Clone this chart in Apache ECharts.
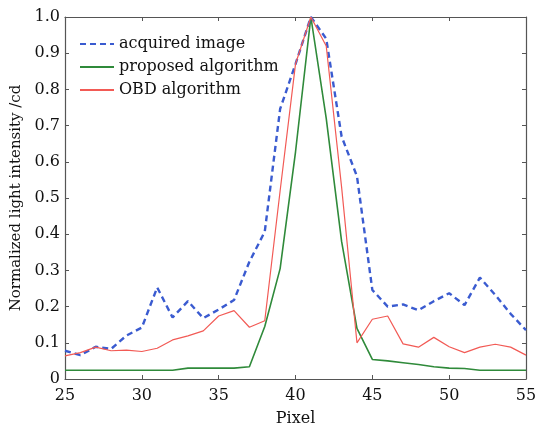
<!DOCTYPE html>
<html>
<head>
<meta charset="utf-8">
<script src="https://cdn.jsdelivr.net/npm/echarts@6/dist/echarts.min.js"></script>
<style>html,body{margin:0;padding:0;background:#fff;}#c{width:536px;height:427px;}</style>
</head>
<body>
<div id="c"></div>
<script>
var pixels = [25,26,27,28,29,30,31,32,33,34,35,36,37,38,39,40,41,42,43,44,45,46,47,48,49,50,51,52,53,54,55];
var acquired = [0.078,0.066,0.089,0.083,0.12,0.142,0.253,0.17,0.215,0.168,0.192,0.218,0.324,0.407,0.746,0.87,1.0,0.94,0.67,0.56,0.246,0.2,0.206,0.19,0.215,0.237,0.204,0.28,0.232,0.18,0.135];
var proposed = [0.024,0.024,0.024,0.024,0.024,0.024,0.024,0.024,0.03,0.03,0.03,0.03,0.034,0.145,0.305,0.627,1.0,0.72,0.38,0.14,0.054,0.05,0.045,0.04,0.034,0.03,0.029,0.024,0.024,0.024,0.024];
var obd = [0.064,0.073,0.088,0.078,0.08,0.076,0.085,0.108,0.119,0.133,0.174,0.189,0.143,0.161,0.52,0.87,1.0,0.92,0.53,0.1,0.165,0.174,0.097,0.088,0.115,0.089,0.073,0.088,0.096,0.088,0.066];
var xTicks = [25,30,35,40,45,50,55];
var yTicks = [0,0.1,0.2,0.3,0.4,0.5,0.6,0.7,0.8,0.9,1.0];
var names = ['acquired image','proposed algorithm','OBD algorithm'];

function pairs(ys){ return pixels.map(function(p,i){ return [p, ys[i]]; }); }
var font = 'DejaVu Serif';
var axisCol = '#555';
var chart = echarts.init(document.getElementById('c'));
var baseX = {type:'value', min:xTicks[0], max:xTicks[xTicks.length-1], interval:5,
  axisLine:{show:true, onZero:false, lineStyle:{color:axisCol, width:1.2}},
  axisTick:{show:true, inside:true, length:4, lineStyle:{color:axisCol}},
  splitLine:{show:false}};
var baseY = {type:'value', min:0, max:1, interval:0.1,
  axisLine:{show:true, onZero:false, lineStyle:{color:axisCol, width:1.2}},
  axisTick:{show:true, inside:true, length:4, lineStyle:{color:axisCol}},
  splitLine:{show:false}};
chart.setOption({
  animation:false,
  backgroundColor:'#fff',
  grid:{left:65, right:10, top:17, bottom:48, outerBoundsMode:'none', containLabel:false},
  legend:{
    data:names.map(function(n){ return {name:n}; }), orient:'vertical', left:74, top:31,
    itemWidth:34, itemHeight:12, itemGap:7,
    itemStyle:{opacity:0},
    textStyle:{fontFamily:font, fontSize:16, color:'#111'}
  },
  xAxis:[
    Object.assign({}, baseX, {position:'bottom', name:'Pixel', nameLocation:'middle', nameGap:32,
      nameTextStyle:{fontFamily:font, fontSize:16, color:'#111'},
      axisLabel:{fontFamily:font, fontSize:16, color:'#111', margin:9}}),
    Object.assign({}, baseX, {position:'top', axisLabel:{show:false}})
  ],
  yAxis:[
    Object.assign({}, baseY, {position:'left', name:'Normalized light intensity /cd', nameLocation:'middle', nameGap:35,
      nameTextStyle:{fontFamily:font, fontSize:15, color:'#111'},
      axisLabel:{fontFamily:font, fontSize:16, color:'#111', margin:5,
        formatter:function(v){ return v===0 ? '0' : v.toFixed(1); }}}),
    Object.assign({}, baseY, {position:'right', axisLabel:{show:false}})
  ],
  series:[
    {name:names[0], type:'line', data:pairs(acquired), symbol:'none', z:3,
      lineStyle:{color:'#3a5bd0', width:2.4, type:[6,4]}, itemStyle:{color:'#3a5bd0'}},
    {name:names[1], type:'line', data:pairs(proposed), symbol:'none', z:2,
      lineStyle:{color:'#2f8a3a', width:1.6}, itemStyle:{color:'#2f8a3a'}},
    {name:names[2], type:'line', data:pairs(obd), symbol:'none', z:4,
      lineStyle:{color:'#f25a55', width:1.2}, itemStyle:{color:'#f25a55'}}
  ]
});
</script>
</body>
</html>
